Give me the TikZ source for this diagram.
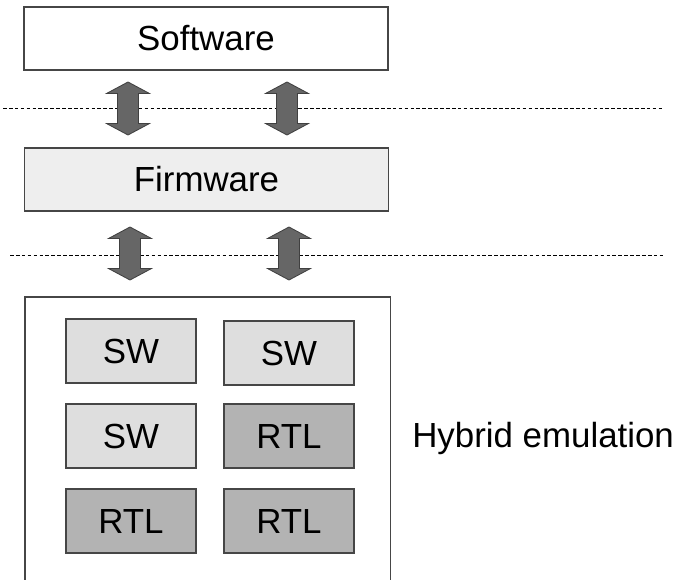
\documentclass[tikz,border=0pt]{standalone}
\usepackage{fontspec}
\setmainfont{Liberation Sans}
\usetikzlibrary{positioning}
\definecolor{edgegray}{RGB}{70,70,70}
\definecolor{fwfill}{RGB}{238,238,238}
\definecolor{swfill}{RGB}{222,222,222}
\definecolor{rtlfill}{RGB}{179,179,179}
\definecolor{arrowgray}{RGB}{102,102,102}
\tikzset{
  layer/.style={draw=edgegray,line width=0.8pt,minimum width=9.1cm,minimum height=1.575cm,inner sep=0pt},
  unitbox/.style={draw=edgegray,line width=0.8pt,minimum width=3.25cm,minimum height=1.6cm,inner sep=0pt},
  swbox/.style={unitbox,fill=swfill},
  rtlbox/.style={unitbox,fill=rtlfill},
  boundary/.style={black,line width=0.6pt,dash pattern=on 2.6pt off 1.6pt},
  arrowfill/.style={fill=arrowgray,draw=black!75,line width=0.6pt},
  updown/.pic={
    \draw[arrowfill] (0,-26.5) -- (21.5,-15) -- (10.5,-15) -- (10.5,15) -- (21.5,15)
      -- (0,26.5) -- (-21.5,15) -- (-10.5,15) -- (-10.5,-15) -- (-21.5,-15) -- cycle;
  }
}
\begin{document}
\begin{tikzpicture}[x=0.025cm,y=-0.025cm,font=\fontsize{24.8}{29}\selectfont]
  \useasboundingbox (0,0) rectangle (683,579);
  % layers
  \node[layer,fill=white] (sw) at (206,38.5) {Software};
  \node[layer,fill=fwfill] (fw) at (206.5,179.5) {Firmware};
  % interface boundaries
  \coordinate (b1l) at (3,108);  \coordinate (b1r) at (663,108);
  \coordinate (b2l) at (10,255.5); \coordinate (b2r) at (663,255.5);
  \draw[boundary] (b1l) -- (b1r);
  \draw[boundary] (b2l) -- (b2r);
  \pic at (128,108.5) {updown};
  \pic at (287,108.5) {updown};
  \pic at (130,253.5) {updown};
  \pic at (289,253.5) {updown};
  % emulation platform
  \node[minimum width=9.125cm,minimum height=7.1cm,inner sep=0pt,anchor=north west] (emu) at (25,297) {};
  \draw[edgegray,line width=0.8pt] (emu.south west) -- (emu.north west) -- (emu.north east) -- (emu.south east);
  \node[swbox] (u11) at (131,351) {SW};
  \node[swbox] (u12) at (289,353) {SW};
  \node[swbox] (u21) at (131,436) {SW};
  \node[rtlbox] (u22) at (289,436) {RTL};
  \node[rtlbox] (u31) at (131,521) {RTL};
  \node[rtlbox] (u32) at (289,521) {RTL};
  \node[anchor=west,inner sep=0pt] (hyb) at (412,438) {Hybrid emulation};
\end{tikzpicture}
\end{document}
